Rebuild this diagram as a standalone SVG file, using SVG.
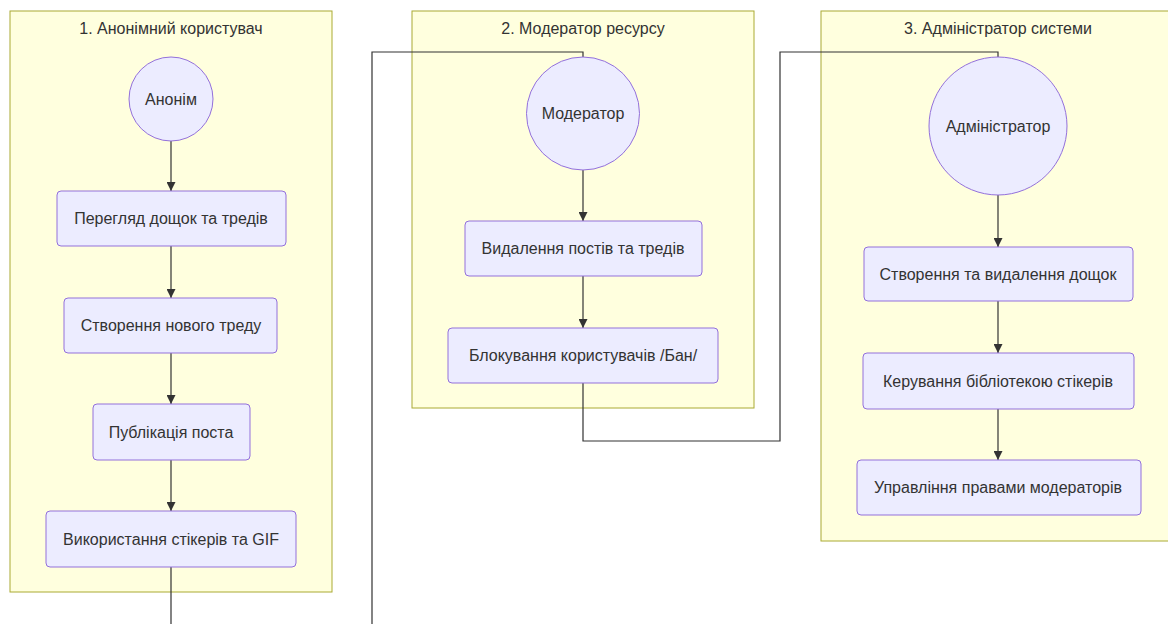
<svg xmlns="http://www.w3.org/2000/svg" width="1168" height="624" viewBox="0 0 1168 624">
<defs>
<style>
.cluster{fill:#ffffde;stroke:#aaaa33;stroke-width:1}
.node{fill:#ececff;stroke:#9370db;stroke-width:1}
.t{font-family:"Trebuchet MS","Liberation Sans",Arial,sans-serif;font-size:16px;fill:#333;text-anchor:middle;dominant-baseline:central}
.edge{fill:none;stroke:#333;stroke-width:1.2}
</style>
<marker id="arr" viewBox="0 0 10 10" refX="10" refY="5" markerWidth="9" markerHeight="9" markerUnits="userSpaceOnUse" orient="auto">
<path d="M0,0 L10,5 L0,10 z" fill="#333"/>
</marker>
</defs>
<rect width="1168" height="624" fill="#fff"/>
<g id="clusters">
<g id="cluster1"><rect class="cluster" x="10" y="11" width="322" height="581"/><text class="t" x="171" y="28">1. Анонімний користувач</text></g>
<g id="cluster2"><rect class="cluster" x="412" y="11" width="342" height="397"/><text class="t" x="583" y="28">2. Модератор ресурсу</text></g>
<g id="cluster3"><rect class="cluster" x="821" y="11" width="354" height="530"/><text class="t" x="998" y="28">3. Адміністратор системи</text></g>
</g>
<g id="connectors">
<path class="edge" marker-end="url(#arr)" d="M171,141 L171,191"/>
<path class="edge" marker-end="url(#arr)" d="M171,246 L171,298"/>
<path class="edge" marker-end="url(#arr)" d="M171,353 L171,404"/>
<path class="edge" marker-end="url(#arr)" d="M171,460 L171,511"/>
<path class="edge" d="M171,567 L171,630 M372,630 L372,52 L583,52 L583,58"/>
<path class="edge" marker-end="url(#arr)" d="M583,170 L583,221"/>
<path class="edge" marker-end="url(#arr)" d="M583,276 L583,328"/>
<path class="edge" d="M583,383 L583,441 L780,441 L780,52 L998,52 L998,58"/>
<path class="edge" marker-end="url(#arr)" d="M998,195 L998,247"/>
<path class="edge" marker-end="url(#arr)" d="M998,301 L998,353"/>
<path class="edge" marker-end="url(#arr)" d="M998,409 L998,460"/>
</g>
<g id="n-anon"><circle class="node" cx="171" cy="99" r="42"/><text class="t" x="171" y="99">Анонім</text></g>
<g id="n-view"><rect class="node" x="57" y="191" width="229" height="55" rx="4"/><text class="t" x="171" y="218.5">Перегляд дощок та тредів</text></g>
<g id="n-create"><rect class="node" x="64" y="298" width="213" height="55" rx="4"/><text class="t" x="171" y="325.5">Створення нового треду</text></g>
<g id="n-post"><rect class="node" x="93" y="404" width="157" height="56" rx="4"/><text class="t" x="171" y="432">Публікація поста</text></g>
<g id="n-stickers"><rect class="node" x="46" y="511" width="250" height="56" rx="4"/><text class="t" x="171" y="539">Використання стікерів та GIF</text></g>
<g id="n-mod"><circle class="node" cx="583" cy="113.5" r="56.5"/><text class="t" x="583" y="113.5">Модератор</text></g>
<g id="n-delete"><rect class="node" x="465" y="221" width="237" height="55" rx="4"/><text class="t" x="583" y="248.5">Видалення постів та тредів</text></g>
<g id="n-ban"><rect class="node" x="448" y="328" width="270" height="55" rx="4"/><text class="t" x="583" y="355.5">Блокування користувачів /Бан/</text></g>
<g id="n-admin"><circle class="node" cx="998" cy="126" r="69"/><text class="t" x="998" y="126">Адміністратор</text></g>
<g id="n-boards"><rect class="node" x="864" y="247" width="269" height="54" rx="4"/><text class="t" x="998" y="274">Створення та видалення дощок</text></g>
<g id="n-lib"><rect class="node" x="863" y="353" width="271" height="56" rx="4"/><text class="t" x="998" y="381">Керування бібліотекою стікерів</text></g>
<g id="n-rights"><rect class="node" x="857" y="460" width="284" height="55" rx="4"/><text class="t" x="998" y="487.5">Управління правами модераторів</text></g>
</svg>
